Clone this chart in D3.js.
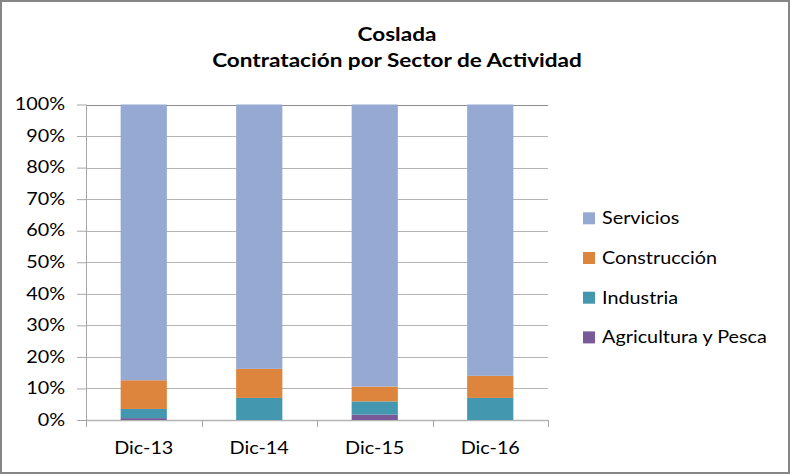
<!DOCTYPE html>
<html>
<head>
<meta charset="utf-8">
<script src="https://cdn.jsdelivr.net/npm/d3@7"></script>
<style>
  body { margin: 0; background: #fff; }
  svg text { font-family: Lato, "Open Sans", sans-serif; fill: #000; }
</style>
</head>
<body>
<svg id="chart" width="791" height="475"></svg>
<script>
// data (share of contracts, %)
var categories = ["Dic-13", "Dic-14", "Dic-15", "Dic-16"];
var series = ["Agricultura y Pesca", "Industria", "Construcción", "Servicios"];
var agricultura = [0.6, 0, 1.7, 0];
var industria = [2.9, 7.0, 4.2, 7.0];
var construccion = [9.1, 9.2, 4.7, 7.0];
var servicios = [87.4, 83.8, 89.4, 86.0];
var colors = ["#775a97", "#4398b0", "#dd843d", "#95a9d2"];
var yTicks = [0, 0.1, 0.2, 0.3, 0.4, 0.5, 0.6, 0.7, 0.8, 0.9, 1];
var titleLines = ["Coslada", "Contratación por Sector de Actividad"];

var stretchK = 1.2;

// the original text looks a bit wide, so scale text horizontally around its anchor
function stretch(sel){
    sel.each(function(){
        var t = d3.select(this);
        var x = +t.attr("x") || 0;
        t.attr("transform", "translate(" + x + ",0) scale(" + stretchK + ",1) translate(" + (-x) + ",0)");
    });
}

var svg = d3.select("#chart");

// outer frame
svg.append("rect")
    .attr("x", 1).attr("y", 1)
    .attr("width", 788).attr("height", 472)
    .attr("fill", "#fff")
    .attr("stroke", "#868686")
    .attr("stroke-width", 2);

var plot = {left: 86, right: 548, top: 104.5, bottom: 420};

// stack the series
var rows = categories.map(function(c, i){
    return {cat: c, "Agricultura y Pesca": agricultura[i] / 100, "Industria": industria[i] / 100,
        "Construcción": construccion[i] / 100, "Servicios": servicios[i] / 100};
});
var stacked = d3.stack().keys(series)(rows);

var xCat = d3.scaleBand()
    .domain(categories)
    .range([plot.left, plot.right])
    .padding(0);

var x = d3.scaleBand()
    .domain(categories)
    .range([plot.left, plot.right])
    .paddingInner(0.6)
    .paddingOuter(0.3);

var y = d3.scaleLinear()
    .domain([0, 1])
    .range([plot.bottom, plot.top]);

var color = d3.scaleOrdinal().domain(series).range(colors);

// gridlines
svg.append("g")
    .selectAll("line")
    .data(yTicks)
    .enter()
    .append("line")
    .attr("x1", plot.left)
    .attr("x2", plot.right)
    .attr("y1", function(d){ return Math.round(y(d)) + 0.5; })
    .attr("y2", function(d){ return Math.round(y(d)) + 0.5; })
    .attr("stroke", function(d){ return d === 1 ? "#8c8c8c" : "#b4b4b4"; })
    .attr("stroke-width", function(d){ return d === 0 ? 1.5 : 1; });

// y axis
var yAxis = svg.append("g")
    .attr("transform", "translate(" + plot.left + ",0)")
    .call(d3.axisLeft(y).tickValues(yTicks).tickFormat(d3.format(".0%")).tickSize(9).tickPadding(12));
yAxis.select(".domain").remove();
yAxis.selectAll(".tick line").attr("stroke", "#a6a6a6");
yAxis.selectAll("text")
    .style("font-size", "16.5px")
    .call(stretch);

svg.append("line")
    .attr("x1", plot.left + 0.5).attr("x2", plot.left + 0.5)
    .attr("y1", plot.top).attr("y2", plot.bottom + 7)
    .attr("stroke", "#a6a6a6");

// x axis: tick marks at band edges, labels centred
var edges = categories.map(function(c){ return xCat(c) + xCat.step(); });
svg.append("g")
    .selectAll("line")
    .data(edges)
    .enter()
    .append("line")
    .attr("x1", function(d){ return Math.round(d) + 0.5; })
    .attr("x2", function(d){ return Math.round(d) + 0.5; })
    .attr("y1", plot.bottom)
    .attr("y2", plot.bottom + 7)
    .attr("stroke", "#a6a6a6");

svg.append("g")
    .selectAll("text")
    .data(categories)
    .enter()
    .append("text")
    .attr("x", function(d){ return xCat(d) + xCat.bandwidth() / 2; })
    .attr("y", 454)
    .attr("text-anchor", "middle")
    .style("font-size", "16.5px")
    .text(function(d){ return d; })
    .call(stretch);

// bars
svg.append("g")
    .selectAll("g")
    .data(stacked)
    .enter()
    .append("g")
    .attr("fill", function(d){ return color(d.key); })
    .selectAll("rect")
    .data(function(d){ return d; })
    .enter()
    .append("rect")
    .attr("x", function(d){ return x(d.data.cat); })
    .attr("y", function(d){ return y(d[1]); })
    .attr("width", x.bandwidth())
    .attr("height", function(d){ return y(d[0]) - y(d[1]); });

// legend (top entry is Servicios)
var legendOrder = series.slice().reverse();
var legend = svg.append("g")
    .selectAll("g")
    .data(legendOrder)
    .enter()
    .append("g")
    .attr("transform", function(d, i){ return "translate(583," + (218.3 + i * 39.7) + ")"; });
legend.append("rect")
    .attr("x", 0).attr("y", -6)
    .attr("width", 12).attr("height", 12)
    .attr("fill", function(d){ return color(d); });
legend.append("text")
    .attr("x", 19)
    .attr("y", 6)
    .style("font-size", "16.5px")
    .text(function(d){ return d; })
    .call(stretch);

// title
svg.append("g")
    .selectAll("text")
    .data(titleLines)
    .enter()
    .append("text")
    .attr("x", 397)
    .attr("y", function(d, i){ return i === 0 ? 41 : 67; })
    .attr("text-anchor", "middle")
    .style("font-size", "18.8px")
    .style("font-weight", "bold")
    .text(function(d){ return d; })
    .call(stretch);
</script>
</body>
</html>
